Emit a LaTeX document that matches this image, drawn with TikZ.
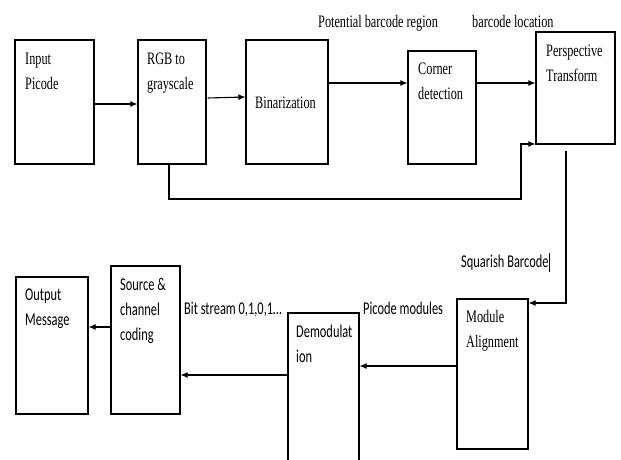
\documentclass[tikz,border=0pt]{standalone}
\usepackage{fontspec}
\usetikzlibrary{arrows.meta}
\newfontfamily\boxserif[FakeStretch=0.7]{Liberation Serif}
\newfontfamily\boxsans[FakeStretch=0.69]{Carlito}
\begin{document}
\begin{tikzpicture}[x=1pt,y=-1pt,
  blk/.style={draw, line width=1.1pt, inner sep=0pt},
  arr/.style={line width=1.1pt, -{Latex[length=7pt,width=6pt]}},
  sertxt/.style={anchor=north west, align=left, inner sep=0pt, font={\boxserif\fontsize{17.5}{25}\selectfont}},
  santxt/.style={anchor=north west, align=left, inner sep=0pt, font={\boxsans\fontsize{18}{25}\selectfont}},
  serlab/.style={anchor=base west, inner sep=0pt, font={\boxserif\fontsize{17.5}{20}\selectfont}},
  sanlab/.style={anchor=base west, inner sep=0pt, font={\boxsans\fontsize{18}{20}\selectfont}}]
\useasboundingbox (0,0) rectangle (621,460);
\clip (0,0) rectangle (621,460);
% boxes
\node[blk, minimum width=79, minimum height=124] (inp) at (54.5,102) {};
\node[blk, minimum width=68, minimum height=124] (rgb) at (172,102) {};
\node[blk, minimum width=82, minimum height=124] (bin) at (287,102) {};
\node[blk, minimum width=68, minimum height=113] (cor) at (442,107.5) {};
\node[blk, minimum width=79, minimum height=112] (per) at (575.5,88) {};
\node[blk, minimum width=71, minimum height=150] (mod) at (492.5,374) {};
\node[blk, minimum width=71, minimum height=162] (dem) at (323.5,394) {};
\node[blk, minimum width=69, minimum height=148] (src) at (145.5,340) {};
\node[blk, minimum width=72, minimum height=137] (out) at (52,345.5) {};
% box texts
\node[sertxt] (tinp) at (25,53) {Input\\Picode};
\node[sertxt] (trgb) at (147,53) {RGB to\\grayscale};
\node[sertxt] (tbin) at (255,97) {Binarization};
\node[sertxt] (tcor) at (418,63) {Corner\\detection};
\node[sertxt] (tper) at (546,45) {Perspective\\Transform};
\node[sertxt] (tmod) at (466,310) {Module\\Alignment};
\node[santxt] (tdem) at (296,325) {Demodulat\\ion};
\node[santxt] (tsrc) at (120,278) {Source \&\\channel\\coding};
\node[santxt] (tout) at (25,289) {Output\\Message};
% labels
\node[serlab] (lpot) at (318,28) {Potential barcode region};
\node[serlab] (lloc) at (472,28) {barcode location};
\node[sanlab] (lsq) at (461,267) {Squarish Barcode\rule[-5pt]{1.3pt}{19pt}};
\node[sanlab] (lpic) at (363,314) {Picode modules};
\node[sanlab] (lbit) at (184,314) {Bit stream 0,1,0,1…};
% connectors
\draw[arr] (inp.east |- 0,104) -- (rgb.west |- 0,104);
\draw[arr] ([xshift=1pt]rgb.east |- 0,98) -- (bin.west |- 0,97);
\draw[arr] (bin.east |- 0,83) -- (cor.west |- 0,83);
\draw[arr] (cor.east |- 0,83) -- (per.west |- 0,83);
\draw[arr] (rgb.south -| 169,0) -- (169,199) -- (521,199) -- (521,144) -- (per.west |- 0,144);
\draw[arr] ([yshift=-6pt]per.south -| 566,0) -- (566,303) -- (mod.east |- 0,303);
\draw[arr] (mod.west |- 0,366) -- (dem.east |- 0,366);
\draw[arr] (dem.west |- 0,375) -- (src.east |- 0,375);
\draw[arr] (src.west |- 0,327) -- (out.east |- 0,327);
\end{tikzpicture}
\end{document}
